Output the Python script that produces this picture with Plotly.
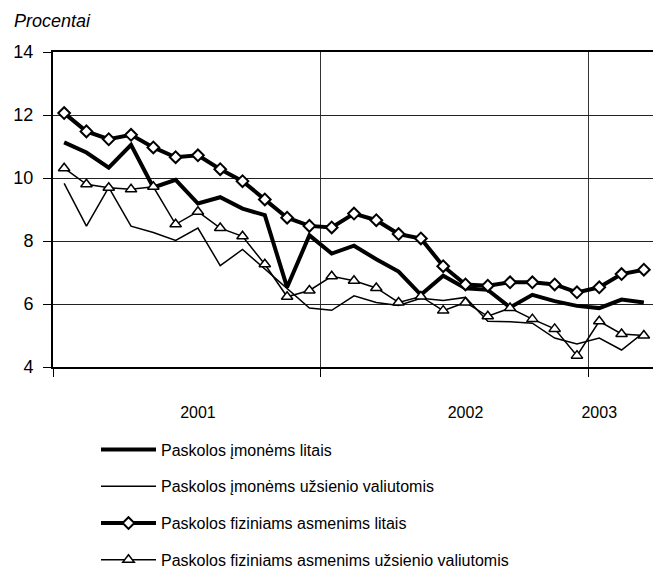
import plotly.graph_objects as go

# Monthly observations, Jan 2001 - Mar 2003 (27 months)
months = list(range(27))
year_label_pos = [6, 18, 24]
year_labels = ["2001", "2002", "2003"]
year_bounds = [-0.5, 11.5, 23.5]

imon_lt = [11.13, 10.81, 10.33, 11.05, 9.70, 9.94, 9.19, 9.39, 9.03, 8.82, 6.53, 8.18, 7.60,
           7.85, 7.42, 7.03, 6.29, 6.90, 6.50, 6.45, 5.89, 6.29, 6.09, 5.94, 5.87, 6.14, 6.05]
imon_val = [9.83, 8.47, 9.70, 8.47, 8.27, 8.02, 8.41, 7.22, 7.73, 7.12, 6.48, 5.87, 5.80,
            6.26, 6.05, 5.95, 6.18, 6.11, 6.21, 5.45, 5.44, 5.39, 4.92, 4.73, 4.92, 4.54, 5.10]
fiz_lt = [12.06, 11.48, 11.23, 11.37, 10.97, 10.66, 10.72, 10.28, 9.90, 9.32, 8.74, 8.48, 8.43,
          8.87, 8.66, 8.22, 8.08, 7.20, 6.62, 6.58, 6.69, 6.69, 6.62, 6.37, 6.53, 6.95, 7.09]
fiz_val = [10.31, 9.80, 9.69, 9.64, 9.72, 8.53, 8.93, 8.41, 8.15, 7.26, 6.23, 6.43, 6.88,
           6.74, 6.51, 6.05, 6.24, 5.79, 6.05, 5.61, 5.87, 5.52, 5.21, 4.36, 5.45, 5.05, 5.00]

names = ["Paskolos įmonėms litais",
         "Paskolos įmonėms užsienio valiutomis",
         "Paskolos fiziniams asmenims litais",
         "Paskolos fiziniams asmenims užsienio valiutomis"]

FONT = "Liberation Sans, Arial, sans-serif"

fig = go.Figure()
fig.add_trace(go.Scatter(x=months, y=imon_lt, name=names[0], mode="lines",
                         line=dict(color="black", width=4), legendgroup="a"))
fig.add_trace(go.Scatter(x=months, y=imon_val, name=names[1], mode="lines",
                         line=dict(color="black", width=1.5), legendgroup="b"))
fig.add_trace(go.Scatter(x=months, y=fiz_lt, name=names[2], mode="lines+markers",
                         line=dict(color="black", width=4),
                         marker=dict(symbol="diamond", size=9, color="white",
                                     line=dict(color="black", width=2)),
                         legendgroup="c"))
fig.add_trace(go.Scatter(x=months, y=fiz_val, name=names[3], mode="lines+markers",
                         line=dict(color="black", width=1.5),
                         marker=dict(symbol="triangle-up", size=10, color="white",
                                     line=dict(color="black", width=1.5)),
                         legendgroup="d"))

# page body has an 8px margin, so the figure is 8px smaller on each side
fig.update_layout(
    width=653, height=570,
    margin=dict(l=45, r=6, t=44, b=211, autoexpand=False),
    paper_bgcolor="white", plot_bgcolor="white",
    font=dict(family=FONT, size=16, color="black"),
    showlegend=True,
    legend=dict(x=(96 - 53) / 602, xanchor="left", y=-0.208, yanchor="top",
                font=dict(family=FONT, size=16, color="black"),
                itemwidth=55,
                tracegroupgap=13, bgcolor="rgba(0,0,0,0)"),
    xaxis=dict(range=[-0.5, 26.5], showgrid=False, zeroline=False, automargin=False,
               tickmode="array", tickvals=year_label_pos, ticktext=year_labels,
               ticks="", ticklabelstandoff=30,
               tickfont=dict(family=FONT, size=16, color="black"),
               showline=True, linecolor="black", linewidth=2, mirror=True,
               minor=dict(tickmode="array", tickvals=year_bounds, ticks="outside",
                          ticklen=8, tickcolor="black", tickwidth=1,
                          showgrid=True, gridcolor="#333", gridwidth=1)),
    yaxis=dict(range=[4, 14], tickmode="array", tickvals=[4, 6, 8, 10, 12, 14],
               showgrid=True, gridcolor="#222", gridwidth=1, zeroline=False, automargin=False,
               ticks="outside", ticklen=8, tickcolor="black", tickwidth=1,
               ticklabelstandoff=6,
               tickfont=dict(family=FONT, size=18, color="black"),
               showline=True, linecolor="black", linewidth=2, mirror=True),
    annotations=[dict(text="<i>Procentai</i>", xref="paper", yref="paper",
                      x=-41 / 602, y=1 + 31 / 315, xanchor="left", yanchor="middle",
                      showarrow=False, font=dict(family=FONT, size=18, color="black"))],
)

fig.write_html("out.html")
